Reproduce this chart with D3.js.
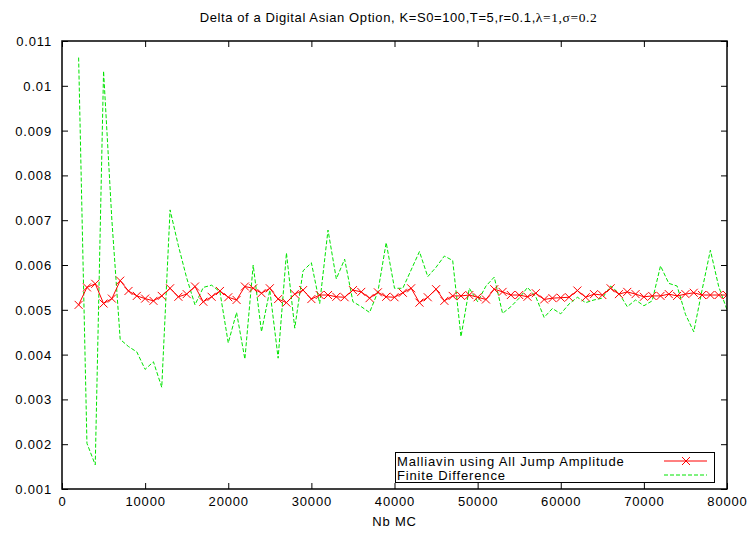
<!DOCTYPE html>
<html>
<head>
<meta charset="utf-8">
<script src="https://cdn.jsdelivr.net/npm/d3@7"></script>
<style>
  html, body { margin: 0; padding: 0; background: #fff; }
  svg { display: block; }
  text { font-family: "Liberation Sans", Arial, sans-serif; font-size: 13px; letter-spacing: 0.85px; fill: #000; }
</style>
</head>
<body>
<script>
// ---- data ----
const nbMC = d3.range(2000, 80001, 1000); // sample sizes 2000..80000
const malliavin = [
  0.00511, 0.00550, 0.00558, 0.00514, 0.00525, 0.00565, 0.00542, 0.00531, 0.00525, 0.00520,
  0.00531, 0.00548, 0.00529, 0.00535, 0.00552, 0.00518, 0.00529, 0.00542, 0.00528, 0.00522,
  0.00552, 0.00548, 0.00537, 0.00548, 0.00524, 0.00516, 0.00535, 0.00544, 0.00524, 0.00533,
  0.00533, 0.00529, 0.00528, 0.00544, 0.00540, 0.00526, 0.00539, 0.00529, 0.00528, 0.00538,
  0.00548, 0.00516, 0.00528, 0.00546, 0.00520, 0.00531, 0.00531, 0.00533, 0.00528, 0.00523,
  0.00546, 0.00540, 0.00533, 0.00533, 0.00529, 0.00537, 0.00523, 0.00526, 0.00527, 0.00528,
  0.00543, 0.00528, 0.00535, 0.00533, 0.00548, 0.00535, 0.00540, 0.00535, 0.00529, 0.00531,
  0.00531, 0.00535, 0.00531, 0.00535, 0.00538, 0.00533, 0.00533, 0.00533, 0.00533
];
const finiteDiff = [
  0.01063, 0.00202, 0.00154, 0.01033, 0.00700, 0.00434, 0.00418, 0.00406, 0.00367, 0.00384,
  0.00327, 0.00723, 0.00643, 0.00571, 0.00511, 0.00550, 0.00555, 0.00540, 0.00426, 0.00494,
  0.00390, 0.00600, 0.00451, 0.00544, 0.00392, 0.00627, 0.00459, 0.00587, 0.00605, 0.00514,
  0.00678, 0.00569, 0.00613, 0.00518, 0.00507, 0.00494, 0.00540, 0.00650, 0.00548, 0.00548,
  0.00589, 0.00630, 0.00574, 0.00595, 0.00620, 0.00610, 0.00440, 0.00548, 0.00518, 0.00553,
  0.00573, 0.00492, 0.00507, 0.00526, 0.00550, 0.00529, 0.00483, 0.00503, 0.00491, 0.00513,
  0.00528, 0.00516, 0.00522, 0.00526, 0.00553, 0.00537, 0.00507, 0.00522, 0.00509, 0.00520,
  0.00598, 0.00559, 0.00553, 0.00490, 0.00451, 0.00544, 0.00633, 0.00552, 0.00500
];
const xTicks = [0, 10000, 20000, 30000, 40000, 50000, 60000, 70000, 80000];
const yTicks = [0.001, 0.002, 0.003, 0.004, 0.005, 0.006, 0.007, 0.008, 0.009, 0.01, 0.011];
const seriesNames = ["Malliavin using All Jump Amplitude", "Finite Difference"];
const titleSans = "Delta of a Digital Asian Option, K=S0=100,T=5,r=0.1,";
const titleSerif = "\u03bb=1,\u03c3=0.2";
const xLabel = "Nb MC";

// ---- layout ----
const W = 749, H = 533;
const L = 62, R = 727, T = 41, B = 489;
const red = "#ff0000", green = "#00e400";

const svg = d3.select("body").append("svg").attr("width", W).attr("height", H);

const x = d3.scaleLinear().domain([0, 80000]).range([L, R]);
const y = d3.scaleLinear().domain([0.001, 0.011]).range([B, T]);

// title
const title = svg.append("text").attr("x", (L + R) / 2 + 4).attr("y", 22).attr("text-anchor", "middle")
  .style("letter-spacing", "0.6px");
title.append("tspan").text(titleSans);
title.append("tspan").style("font-family", "'Liberation Serif', 'Times New Roman', serif").style("font-size", "13.5px").text(titleSerif);

// axes with inward ticks (gnuplot style, mirrored)
const tickLen = 6;
const fmtY = d => (d === 0.01 ? "0.01" : d3.format(".3f")(d));
const axB = svg.append("g").attr("transform", `translate(0,${B})`)
  .call(d3.axisBottom(x).tickValues(xTicks).tickSize(-tickLen).tickPadding(tickLen + 11).tickFormat(d3.format("d")));
const axT = svg.append("g").attr("transform", `translate(0,${T})`)
  .call(d3.axisTop(x).tickValues(xTicks).tickSize(-tickLen).tickFormat(""));
const axL = svg.append("g").attr("transform", `translate(${L},0)`)
  .call(d3.axisLeft(y).tickValues(yTicks).tickSize(-tickLen).tickPadding(tickLen + 4).tickFormat(fmtY));
const axR = svg.append("g").attr("transform", `translate(${R},0)`)
  .call(d3.axisRight(y).tickValues(yTicks).tickSize(-tickLen).tickFormat(""));
[axB, axT, axL, axR].forEach(g => {
  g.select(".domain").remove();
  g.selectAll(".tick line").attr("stroke", "#000").attr("stroke-width", 1);
  g.selectAll("text").style("font-family", "'Liberation Sans', Arial, sans-serif").style("font-size", "13px")
    .style("letter-spacing", "0.85px").attr("fill", "#000");
});
axB.selectAll("text").attr("dy", "0");
axL.selectAll("text").attr("dy", "0.35em");

// x label
svg.append("text").attr("x", (L + R) / 2).attr("y", 526).attr("text-anchor", "middle").text(xLabel);

// clip
svg.append("clipPath").attr("id", "clip").append("rect").attr("x", L).attr("y", T).attr("width", R - L).attr("height", B - T);
const plot = svg.append("g").attr("clip-path", "url(#clip)");

const lineM = d3.line().x((d, i) => x(nbMC[i])).y(d => y(d));

// green dashed finite difference
plot.append("path").datum(finiteDiff).attr("d", lineM)
  .attr("fill", "none").attr("stroke", green).attr("stroke-width", 1).attr("stroke-dasharray", "4,2");

// red malliavin line + x markers
plot.append("path").datum(malliavin).attr("d", lineM)
  .attr("fill", "none").attr("stroke", red).attr("stroke-width", 1);
const ms = 4;
plot.append("g").selectAll("path").data(malliavin).join("path")
  .attr("d", (d, i) => {
    const cx = x(nbMC[i]), cy = y(d);
    return `M${cx - ms},${cy - ms}L${cx + ms},${cy + ms}M${cx - ms},${cy + ms}L${cx + ms},${cy - ms}`;
  })
  .attr("stroke", red).attr("stroke-width", 1).attr("fill", "none");

// legend
const lg = svg.append("g");
lg.append("rect").attr("x", 395.5).attr("y", 452.5).attr("width", 319).attr("height", 30)
  .attr("fill", "#fff").attr("stroke", "#000").attr("stroke-width", 1);
const rowsY = [461, 475];
lg.append("text").attr("x", 397).attr("y", rowsY[0] + 5).text(seriesNames[0]);
lg.append("text").attr("x", 397).attr("y", rowsY[1] + 5).text(seriesNames[1]);
lg.append("line").attr("x1", 664).attr("x2", 707).attr("y1", rowsY[0]).attr("y2", rowsY[0]).attr("stroke", red);
lg.append("path").attr("d", `M${686 - ms},${rowsY[0] - ms}L${686 + ms},${rowsY[0] + ms}M${686 - ms},${rowsY[0] + ms}L${686 + ms},${rowsY[0] - ms}`)
  .attr("stroke", red).attr("fill", "none");
lg.append("line").attr("x1", 664).attr("x2", 707).attr("y1", rowsY[1]).attr("y2", rowsY[1])
  .attr("stroke", green).attr("stroke-dasharray", "4,2");

// frame
svg.append("rect").attr("x", L).attr("y", T).attr("width", R - L).attr("height", B - T)
  .attr("fill", "none").attr("stroke", "#000").attr("stroke-width", 1.5);
</script>
</body>
</html>
